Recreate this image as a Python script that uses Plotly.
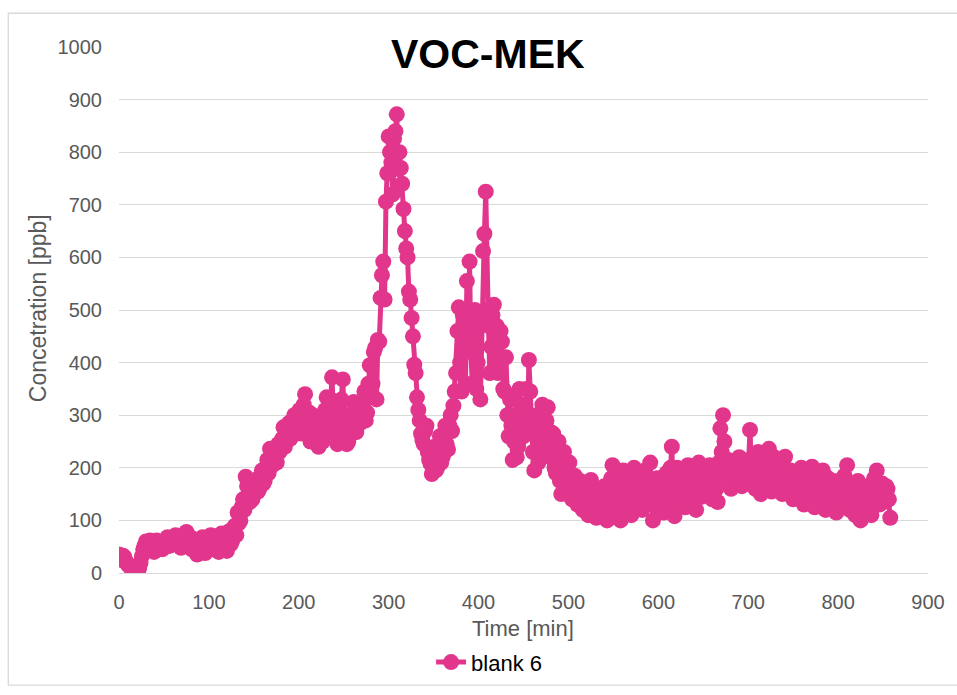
import plotly.graph_objects as go

# Readings on the whole 3-minute marks (t = 0, 3, 6, ... 858 min)
conc_ppb_3min = [
    35, 25, 30, 18, 12, 8, 4, 2, 20, 45,
    60, 48, 55, 40, 62, 50, 45, 58, 68, 52,
    60, 72, 55, 48, 65, 78, 58, 45, 62, 35,
    50, 68, 38, 58, 72, 45, 62, 40, 75, 55,
    42, 80, 62, 90, 115, 100, 140, 183, 150, 160,
    150, 178, 160, 195, 175, 215, 236, 205, 225, 245,
    235, 277, 250, 285, 260, 300, 270, 310, 290, 340,
    275, 250, 300, 265, 240, 295, 260, 334, 280, 372,
    290, 245, 310, 368, 270, 250, 300, 325, 268, 315,
    290, 345, 305, 395, 360, 428, 443, 523, 592, 706,
    830, 780, 826, 872, 800, 740, 650, 600, 520, 450,
    380, 310, 265, 245, 280, 215, 188, 240, 200, 260,
    220, 280, 235, 300, 318, 380, 505, 345, 470, 555,
    592, 360, 500, 400, 330, 612, 725, 470, 430, 510,
    470, 400, 440, 345, 300, 330, 215, 300, 240, 320,
    260, 350, 405, 270, 195, 300, 230, 320, 250, 315,
    220, 265, 190, 250, 150, 230, 170, 210, 140, 185,
    130, 175, 120, 160, 110, 177, 130, 105, 150, 115,
    165, 100, 140, 205, 120, 180, 100, 195, 130, 175,
    110, 200, 140, 170, 120, 195, 150, 210, 100, 160,
    125, 180, 115, 190, 135, 240, 108, 200, 150, 175,
    125, 205, 160, 190, 120, 210, 145, 195, 165, 205,
    140, 190, 135, 275, 300, 180, 215, 160, 200, 175,
    220, 165, 205, 180, 272, 190, 160, 230, 150, 210,
    175, 236, 155, 220, 170, 200, 150, 221, 160, 195,
    140, 185, 150, 200, 130, 190, 140, 202, 125, 185,
    135, 195, 120, 180, 130, 175, 115, 170, 125, 185,
    205, 120, 160, 110, 175, 100, 150, 120, 165, 110,
    180, 195, 130, 170, 150, 160, 105,
]

# Readings on the half marks in between (t = 1.5, 4.5, ... 856.5 min)
conc_ppb_half = [
    28, 33, 22, 15, 10, 5, 2, 10, 32, 52,
    50, 62, 45, 55, 48, 58, 60, 50, 55, 65,
    65, 58, 62, 70, 55, 62, 68, 52, 48, 45,
    60, 48, 52, 65, 55, 70, 50, 60, 62, 70,
    65, 55, 75, 72, 95, 125, 120, 165, 135, 140,
    165, 155, 185, 170, 200, 190, 210, 230, 210, 230,
    255, 240, 270, 255, 280, 275, 295, 265, 320, 280,
    305, 285, 260, 290, 270, 250, 310, 300, 330, 300,
    265, 280, 330, 300, 245, 285, 265, 290, 300, 285,
    320, 290, 360, 340, 420, 330, 440, 566, 520, 760,
    800, 720, 840, 768, 770, 692, 617, 535, 485, 396,
    334, 290, 253, 270, 230, 208, 215, 195, 235, 210,
    255, 245, 280, 270, 345, 460, 400, 490, 360, 440,
    420, 480, 350, 470, 480, 645, 500, 380, 490, 420,
    380, 460, 350, 410, 260, 280, 250, 220, 350, 270,
    300, 280, 345, 230, 260, 210, 280, 260, 290, 270,
    240, 200, 230, 175, 200, 160, 195, 150, 170, 155,
    155, 140, 130, 140, 150, 120, 160, 135, 125, 145,
    120, 155, 180, 150, 160, 135, 160, 120, 170, 145,
    160, 125, 185, 145, 165, 130, 180, 140, 135, 180,
    155, 140, 165, 160, 200, 160, 150, 130, 185, 145,
    170, 140, 180, 145, 185, 175, 165, 150, 185, 170,
    175, 160, 210, 230, 250, 200, 185, 210, 170, 195,
    185, 200, 170, 215, 200, 220, 195, 175, 190, 170,
    210, 190, 200, 180, 205, 165, 190, 175, 185, 170,
    170, 160, 180, 155, 165, 150, 175, 155, 165, 145,
    165, 150, 160, 145, 160, 140, 150, 140, 160, 145,
    150, 140, 130, 145, 125, 135, 160, 140, 130, 150,
    150, 160, 145, 135, 165, 140,
]

time_3min = [3 * i for i in range(len(conc_ppb_3min))]
time_half = [3 * i + 1.5 for i in range(len(conc_ppb_half))]

# merge both reading sets into one time-ordered series
rows = sorted(zip(time_3min + time_half, conc_ppb_3min + conc_ppb_half))
time_min = [r[0] for r in rows]
conc_ppb = [r[1] for r in rows]

series_name = "blank 6"
chart_title = "VOC-MEK"
x_title = "Time [min]"
y_title = "Concetration [ppb]"
x_ticks = [0, 100, 200, 300, 400, 500, 600, 700, 800, 900]
y_ticks = [0, 100, 200, 300, 400, 500, 600, 700, 800, 900, 1000]

PINK = "#E2368D"
GREY_TXT = "#595959"
GRID = "#D9D9D9"
FONT = "Arial, Liberation Sans, sans-serif"

W, H = 957, 695
L, R, T, B = 119, 27, 47, 118
pw, ph = W - L - R, H - T - B


def px_x(p):
    return (p - L) / pw


def px_y(p):
    return (H - B - p) / ph


fig = go.Figure()
fig.add_trace(go.Scatter(
    x=time_min, y=conc_ppb, mode="lines+markers", name=series_name,
    line=dict(color=PINK, width=5),
    marker=dict(color=PINK, size=16, line=dict(width=0)),
))

fig.update_layout(
    width=W, height=H,
    margin=dict(l=L, r=R, t=T, b=B, pad=0),
    paper_bgcolor="white", plot_bgcolor="white",
    font=dict(family=FONT, color=GREY_TXT, size=20),
    showlegend=True,
    legend=dict(
        orientation="h", x=px_x(490), xanchor="center",
        y=px_y(667), yanchor="middle",
        font=dict(family=FONT, size=22, color="#000000"),
        bgcolor="rgba(0,0,0,0)",
        itemsizing="trace",
    ),
    xaxis=dict(
        range=[0, 900], tickvals=x_ticks, ticktext=[str(v) for v in x_ticks],
        showgrid=False, zeroline=False,
        showline=True, linecolor=GRID, linewidth=1.3,
        ticks="", tickfont=dict(size=20, color=GREY_TXT),
        ticklabelstandoff=11, fixedrange=True,
    ),
    yaxis=dict(
        range=[0, 1000], tickvals=y_ticks, ticktext=[str(v) for v in y_ticks],
        showgrid=True, gridcolor=GRID, gridwidth=1.3, zeroline=False,
        showline=False, ticks="", tickfont=dict(size=20, color=GREY_TXT),
        ticklabelstandoff=16, fixedrange=True,
    ),
    shapes=[dict(
        type="rect", xref="paper", yref="paper",
        x0=px_x(8), x1=px_x(965), y0=px_y(690), y1=px_y(13),
        line=dict(color=GRID, width=1.3), fillcolor="rgba(0,0,0,0)", layer="below",
    )],
    annotations=[
        dict(text="<b>" + chart_title + "</b>", xref="paper", yref="paper",
             x=px_x(489), y=px_y(54), xanchor="center", yanchor="middle",
             showarrow=False, font=dict(family=FONT, size=41, color="#000000")),
        dict(text=x_title, xref="paper", yref="paper",
             x=px_x(524), y=px_y(633), xanchor="center", yanchor="middle",
             showarrow=False, font=dict(family=FONT, size=22, color=GREY_TXT)),
        dict(text=y_title, xref="paper", yref="paper",
             x=px_x(38), y=px_y(310), xanchor="center", yanchor="middle",
             textangle=-90, showarrow=False,
             font=dict(family=FONT, size=23, color=GREY_TXT)),
    ],
)

fig.write_html("out.html")
